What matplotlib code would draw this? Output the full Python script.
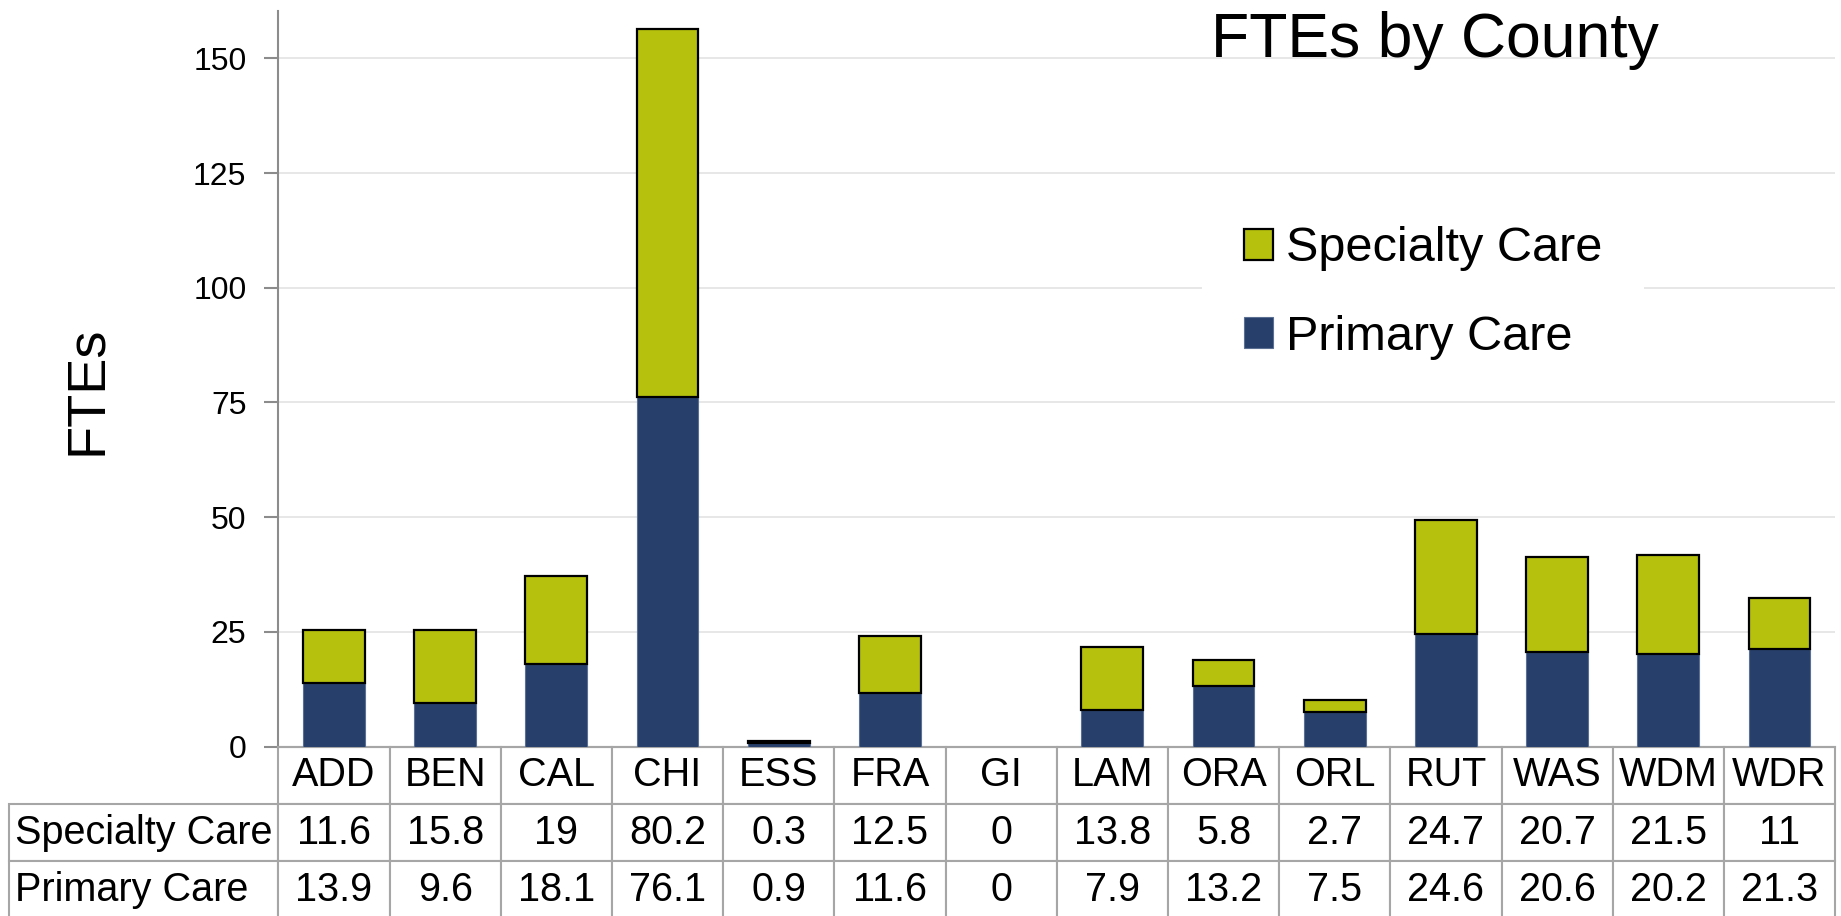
import matplotlib
matplotlib.use('Agg')
import matplotlib.pyplot as plt
from matplotlib.table import Table
import numpy as np

plt.rcParams['font.family'] = ['Liberation Sans', 'DejaVu Sans']

counties = ['ADD', 'BEN', 'CAL', 'CHI', 'ESS', 'FRA', 'GI', 'LAM', 'ORA', 'ORL', 'RUT', 'WAS', 'WDM', 'WDR']
specialty = [11.6, 15.8, 19, 80.2, 0.3, 12.5, 0, 13.8, 5.8, 2.7, 24.7, 20.7, 21.5, 11]
primary = [13.9, 9.6, 18.1, 76.1, 0.9, 11.6, 0, 7.9, 13.2, 7.5, 24.6, 20.6, 20.2, 21.3]
series_names = ['Specialty Care', 'Primary Care']
yticks = [0, 25, 50, 75, 100, 125, 150]

c_prim = '#27406b'
c_spec = '#b6c10e'
c_line = '#a6a6a6'

fig = plt.figure(figsize=(18.41, 9.16), dpi=100)
ax = fig.add_axes([0.1512, 0.1848, 0.8456, 0.8032])

x = np.arange(len(counties))
b1 = ax.bar(x, primary, width=0.555, color=c_prim, edgecolor='#5a6f92', linewidth=0.8, zorder=3)
b2 = ax.bar(x, specialty, bottom=primary, width=0.555, color=c_spec, edgecolor='black', linewidth=1.6, zorder=3)
# empty bars get no outline
for bars in (b1, b2):
    for p in bars:
        if p.get_height() == 0:
            p.set_linewidth(0)

ax.set_xlim(-0.5, len(counties) - 0.5)
ax.set_ylim(0, 160.3)
ax.set_yticks(yticks)
ax.set_yticklabels([str(t) for t in yticks], fontsize=23)
ax.set_xticks([])
ax.tick_params(axis='y', length=10, width=1.5, color='#8c8c8c', pad=13)
ax.grid(axis='y', color='#e3e3e3', linewidth=1.2, zorder=0)
ax.set_axisbelow(True)
for s in ['top', 'right']:
    ax.spines[s].set_visible(False)
ax.spines['left'].set_color('#8c8c8c')
ax.spines['left'].set_linewidth(1.5)
ax.spines['bottom'].set_color(c_line)
ax.spines['bottom'].set_linewidth(1.5)

# data table below the axes
tbl = Table(ax, bbox=[-0.1728, -0.2338, 1.1728, 0.2338])
lab_w = 269 / 111.2
for j, name in enumerate(counties):
    tbl.add_cell(0, j + 1, width=1, height=1, text=name, loc='center')
rows = [specialty, primary]
for i, (name, vals) in enumerate(zip(series_names, rows)):
    tbl.add_cell(i + 1, 0, width=lab_w, height=1, text=name, loc='left')
    for j, v in enumerate(vals):
        tbl.add_cell(i + 1, j + 1, width=1, height=1, text=f'{v:g}', loc='center')
tbl.auto_set_font_size(False)
tbl.set_fontsize(28.5)
for (r, c), cell in tbl.get_celld().items():
    cell.set_edgecolor(c_line)
    cell.set_linewidth(1.5)
    if c == 0:
        cell.PAD = 0.02
ax.add_table(tbl)

fig.legend([b2, b1], series_names, loc='center', bbox_to_anchor=(0.773, 0.680),
           fontsize=35, frameon=True, facecolor='white', edgecolor='none', framealpha=1,
           handlelength=0.6, handleheight=0.6, handletextpad=0.27, labelspacing=0.9,
           borderpad=0.85)

fig.text(0.7795, 0.9378, 'FTEs by County', fontsize=45, ha='center', va='baseline')
fig.text(0.047, 0.574, 'FTEs', fontsize=39, rotation=90, ha='center', va='center')

fig.savefig('out.png', dpi=100)
